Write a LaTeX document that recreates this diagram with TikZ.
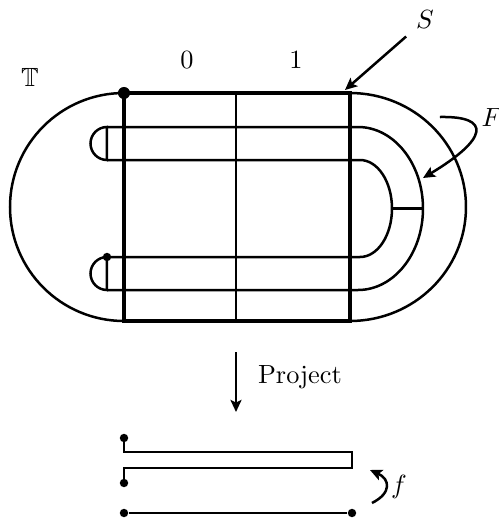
\documentclass[tikz,border=0pt]{standalone}
\usepackage{amssymb}
\usetikzlibrary{arrows.meta}
\tikzset{
  sheet/.style={line width=1.5pt},
  dot/.style={circle,fill,inner sep=0pt,minimum size=#1},
  dot/.default=3.2pt
}
\begin{document}
\begin{tikzpicture}[x=0.38pt,y=0.38pt,line width=0.95pt,
    >={Stealth[length=4.6pt,width=4.2pt,inset=1pt]}]
  \useasboundingbox (0,0) rectangle (498,519);
  % Outer boundary of the torus and the square S.
  \draw (124,426) arc[start angle=90,end angle=270,radius=114];
  \draw (350,426) arc[start angle=90,end angle=-90,x radius=116,y radius=114];
  \draw[sheet] (124,198) rectangle (350,426);
  \draw (236,198) -- (236,426);
  \node (lbl0) at (187,459) {$0$};
  \node (lbl1) at (296,459) {$1$};
  \node (torus) at (30,442) {$\mathbb{T}$};
  % Two folded strips, capped on the left.
  \draw (107,392) -- (358,392)
    arc[start angle=90,end angle=-90,x radius=65,y radius=81.5] -- (107,229);
  \draw (107,359) -- (360,359)
    arc[start angle=90,end angle=-90,x radius=32,y radius=48.5] -- (107,262);
  \draw (392,310.5) -- (423,310.5);
  \foreach \y in {392,262}
    \draw (107,\y) arc[start angle=90,end angle=270,radius=16.5] -- cycle;
  \node[dot=4.6pt] (corner) at (124,426) {};
  \node[dot] (cap) at (107,262) {};
  % Labels S and F with their arrows.
  \node (lblS) at (425,499) {$S$};
  \coordinate (sTip) at (345,429);
  \draw[->] (lblS) -- (sTip);
  \node (lblF) at (492,401) {$F$};
  \coordinate (fStart) at (440,402);
  \coordinate (fTip) at (423,341);
  \draw[->] (fStart) .. controls (492,403) and (488,380) .. (fTip);
  % Projection to the interval picture.
  \coordinate (pTop) at (236,167);
  \coordinate (pBot) at (236,107);
  \draw[->] (pTop) -- (pBot);
  \node[anchor=west] (proj) at (248,142) {Project};
  \node[dot] (a) at (124,81) {};
  \node[dot] (b) at (124,36) {};
  \draw (a.center) -- (124,67) -- (352,67) -- (352,51) -- (124,51) -- (b.center);
  \node[dot] (c) at (124,6) {};
  \node[dot] (d) at (352,6) {};
  \draw (c) -- (d);
  \coordinate (gStart) at (372,16);
  \coordinate (gTip) at (370,49);
  \draw[->] (gStart) .. controls (392,26) and (390,40) .. (gTip);
  \node[anchor=west] (lblf) at (381,32) {$f$};
\end{tikzpicture}
\end{document}
